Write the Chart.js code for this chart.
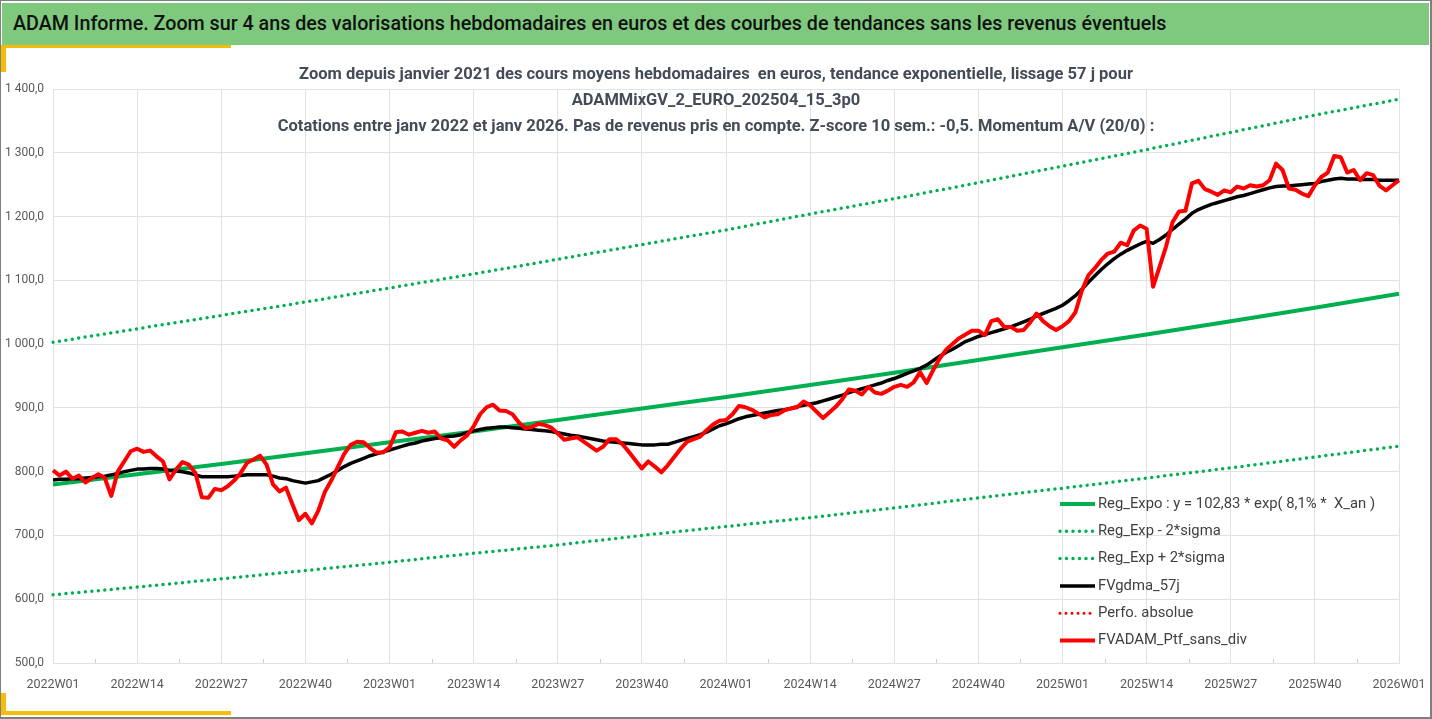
<!DOCTYPE html>
<html lang="fr">
<head>
<meta charset="utf-8">
<title>ADAM Informe</title>
<script src="https://cdn.jsdelivr.net/npm/chart.js@4.4.1/dist/chart.umd.min.js"></script>
<style>
  html, body { margin: 0; padding: 0; background: #fff; }
  #page { position: relative; width: 1432px; height: 719px; overflow: hidden; font-family: Roboto, "Noto Sans", sans-serif; }
  #cadre { position: absolute; left: 0; top: 0; width: 1429px; height: 716px; border: 1px solid #7f7f7f; border-width: 1px 2px 2px 1px; box-sizing: content-box; }
  #bandeau { position: absolute; left: 2px; top: 3px; width: 1427px; height: 42px; background: #7fc97f; color: #111;
             font-size: 19.7px; font-weight: 500; line-height: 42px; padding-left: 11px; box-sizing: border-box; white-space: nowrap; }
  .jaune { position: absolute; background: #f5bd0a; }
  #graphe { position: absolute; left: 0; top: 0; }
</style>
</head>
<body>
<div id="page">
  <canvas id="graphe" width="1432" height="719"></canvas>
  <div id="cadre"></div>
  <div id="bandeau">ADAM Informe. Zoom sur 4 ans des valorisations hebdomadaires en euros et des courbes de tendances sans les revenus éventuels</div>
  <div class="jaune" style="left:1px; top:45px; width:230px; height:3px;"></div>
  <div class="jaune" style="left:1px; top:45px; width:5px; height:27px;"></div>
  <div class="jaune" style="left:1px; top:693px; width:5px; height:22px;"></div>
  <div class="jaune" style="left:1px; top:711px; width:230px; height:4px;"></div>
</div>
<script>
// Libellés du titre
const titreLignes = [
  "Zoom depuis janvier 2021 des cours moyens hebdomadaires  en euros, tendance exponentielle, lissage 57 j pour",
  "ADAMMixGV_2_EURO_202504_15_3p0",
  "Cotations entre janv 2022 et janv 2026. Pas de revenus pris en compte. Z-score 10 sem.: -0,5. Momentum A/V (20/0) :"
];

// Semaines 2022W01 .. 2026W01
const annees = [2022, 2023, 2024, 2025];
const semaines = [];
annees.forEach(a => {
  for (let s = 1; s <= 52; s++) semaines.push(a + "W" + String(s).padStart(2, "0"));
});
semaines.push("2026W01");

// Tendances lues toutes les 13 semaines (2022W01, 2022W14, ... 2026W01)
const regExpo = [780, 796, 812, 829, 846, 863, 881, 899, 917, 936, 955, 975, 995, 1015, 1036, 1057, 1079];
const regMoins2Sigma = [607, 619, 632, 645, 658, 672, 685, 700, 714, 728, 743, 759, 774, 790, 806, 823, 840];
const regPlus2Sigma = [1003, 1024, 1045, 1066, 1088, 1110, 1133, 1156, 1179, 1204, 1228, 1253, 1279, 1305, 1332, 1359, 1384];

// Moyenne mobile 57 j (hebdo)
const fvGdma57j = [
  787, 788, 788, 789, 789, 790, 791, 792, 793, 795, 797, 800, 802, 804, 804, 805, 805, 804, 802, 801,
  800, 798, 795, 792, 792, 792, 792, 792, 793, 794, 795, 795, 795, 795, 793, 790,
  789, 786, 784, 782, 784, 786, 791, 796, 802, 808, 813, 817, 821, 825, 828, 831, 834, 837, 840, 843,
  845, 848, 850, 852, 853, 855, 856, 858, 861, 864, 866, 868, 869, 870, 870,
  869, 868, 867, 866, 865, 864, 863, 861, 859, 857, 856, 854, 852, 850, 848, 847, 846, 845, 844, 843,
  842, 842, 842, 843, 843, 846, 849, 852, 855, 858, 862, 867, 872, 875, 879,
  883, 886, 888, 890, 892, 894, 896, 897, 899, 902, 904, 906, 908, 911, 914, 917, 920, 924, 927, 930,
  933, 936, 939, 943, 946, 950, 954, 958, 962, 967, 974, 981, 987, 992, 998,
  1004, 1008, 1012, 1015, 1018, 1021, 1024, 1027, 1031, 1035, 1039, 1044, 1048, 1052, 1056, 1061, 1068, 1076, 1086, 1097,
  1107, 1117, 1126, 1134, 1141, 1147, 1152, 1157, 1161, 1158, 1164, 1171, 1180, 1188, 1196,
  1205, 1211, 1215, 1219, 1222, 1225, 1228, 1231, 1233, 1236, 1239, 1242, 1245, 1247, 1248, 1248, 1249, 1250, 1251, 1252,
  1255, 1257, 1259, 1260, 1259, 1259, 1258, 1258, 1258, 1257, 1257, 1257, 1257
];

// Valorisation hebdo sans dividendes
const fvAdamPtf = [
  802, 794, 800, 789, 794, 783, 790, 796, 790, 762, 800, 816, 832, 836, 831, 833, 824, 816, 788, 803,
  815, 811, 798, 760, 759, 773, 771, 777, 786, 798, 814, 819, 825, 811, 780, 769,
  775, 749, 724, 734, 719, 739, 768, 786, 807, 828, 842, 847, 846, 837, 830, 830, 838, 862, 863, 858,
  861, 864, 861, 863, 852, 849, 839, 849, 857, 871, 890, 901, 905, 896, 895,
  890, 877, 868, 870, 875, 873, 869, 860, 850, 852, 854, 847, 840, 833, 839, 851, 851, 843, 831, 818,
  805, 816, 808, 799, 810, 823, 836, 847, 851, 855, 865, 874, 880, 881, 890,
  903, 901, 897, 891, 885, 889, 890, 896, 899, 901, 910, 904, 894, 884, 893, 902, 914, 929, 927, 921,
  933, 924, 922, 927, 933, 936, 933, 940, 956, 939, 959, 977, 991, 1000, 1009,
  1015, 1021, 1021, 1014, 1036, 1039, 1027, 1027, 1021, 1022, 1034, 1048, 1036, 1028, 1022, 1028, 1036, 1050, 1084, 1108,
  1119, 1132, 1142, 1145, 1159, 1155, 1178, 1186, 1181, 1090, 1121, 1153, 1191, 1208, 1209,
  1252, 1256, 1243, 1239, 1234, 1241, 1238, 1247, 1244, 1249, 1247, 1249, 1257, 1283, 1273, 1244, 1242, 1236, 1232, 1249,
  1262, 1269, 1295, 1293, 1269, 1273, 1257, 1268, 1265, 1248, 1241, 1249, 1257
];

// Perfo. absolue : série vide dans le graphique
const perfoAbsolue = [];

const PAS_LIBELLE = 13;
const surTrimestre = serie => semaines.map((s, i) => (i % PAS_LIBELLE === 0 ? serie[i / PAS_LIBELLE] : null));

const VERT = "#00b050";
const GRILLE = "#e2e2e2";
const pointille = [0, 6.5];

const formatFr = v => {
  const s = v.toFixed(1).replace(".", ",");
  return v >= 1000 ? s.slice(0, s.length - 5) + " " + s.slice(s.length - 5) : s;
};

// Titre posé sur la zone de tracé
const titreSurTrace = {
  id: "titreSurTrace",
  afterDraw(chart) {
    const ctx = chart.ctx;
    ctx.save();
    ctx.fillStyle = "#424b57";
    ctx.font = "bold 16.5px Roboto";
    ctx.textAlign = "center";
    ctx.textBaseline = "middle";
    titreLignes.forEach((t, i) => ctx.fillText(t, chart.width / 2, 75 + i * 26));
    ctx.restore();
  }
};

// Petites graduations intermédiaires sur l'axe des semaines
const graduationsMineures = {
  id: "graduationsMineures",
  afterDraw(chart) {
    const ctx = chart.ctx;
    const x = chart.scales.x;
    const bas = chart.chartArea.bottom;
    ctx.save();
    ctx.strokeStyle = "#d0d0d0";
    ctx.lineWidth = 1;
    for (let i = PAS_LIBELLE / 2; i < semaines.length; i += PAS_LIBELLE) {
      const px = Math.round(x.getPixelForValue(i)) + 0.5;
      ctx.beginPath();
      ctx.moveTo(px, bas - 4);
      ctx.lineTo(px, bas);
      ctx.stroke();
    }
    ctx.restore();
  }
};

// Légende dans la zone de tracé, en bas à droite
const legendeInterne = {
  id: "legendeInterne",
  afterDraw(chart) {
    const ctx = chart.ctx;
    const ca = chart.chartArea;
    const x0 = ca.right - 339;
    const y0 = ca.bottom - 159;
    ctx.save();
    chart.data.datasets.forEach((ds, i) => {
      const y = y0 + i * 27.3;
      ctx.strokeStyle = ds.borderColor;
      ctx.lineWidth = ds.borderWidth;
      ctx.setLineDash(ds.borderDash || []);
      ctx.lineCap = ds.borderDash ? "round" : "butt";
      ctx.beginPath();
      ctx.moveTo(x0, y);
      ctx.lineTo(x0 + 35, y);
      ctx.stroke();
      ctx.setLineDash([]);
      ctx.fillStyle = "#404040";
      ctx.font = "14.8px Roboto";
      ctx.textBaseline = "middle";
      ctx.fillText(ds.label, x0 + 38, y);
    });
    ctx.restore();
  }
};

new Chart(document.getElementById("graphe"), {
  type: "line",
  data: {
    labels: semaines,
    datasets: [
      {
        label: "Reg_Expo : y = 102,83 * exp( 8,1% *  X_an )",
        data: surTrimestre(regExpo),
        borderColor: VERT,
        borderWidth: 4,
        spanGaps: true,
        order: 4
      },
      {
        label: "Reg_Exp - 2*sigma",
        data: surTrimestre(regMoins2Sigma),
        borderColor: VERT,
        borderWidth: 3.5,
        borderDash: pointille,
        borderCapStyle: "round",
        spanGaps: true,
        order: 5
      },
      {
        label: "Reg_Exp + 2*sigma",
        data: surTrimestre(regPlus2Sigma),
        borderColor: VERT,
        borderWidth: 3.5,
        borderDash: pointille,
        borderCapStyle: "round",
        spanGaps: true,
        order: 3
      },
      {
        label: "FVgdma_57j",
        data: fvGdma57j,
        borderColor: "#000000",
        borderWidth: 3.5,
        order: 2
      },
      {
        label: "Perfo. absolue",
        data: perfoAbsolue,
        borderColor: "#ff0000",
        borderWidth: 3,
        borderDash: [0, 6],
        borderCapStyle: "round",
        order: 1
      },
      {
        label: "FVADAM_Ptf_sans_div",
        data: fvAdamPtf,
        borderColor: "#ff0000",
        borderWidth: 4,
        order: 0
      }
    ]
  },
  options: {
    responsive: false,
    animation: false,
    devicePixelRatio: 1,
    layout: { padding: { top: 89, right: 33, bottom: 0, left: 0 } },
    elements: {
      point: { radius: 0, hoverRadius: 0 },
      line: { tension: 0, borderJoinStyle: "round" }
    },
    scales: {
      x: {
        grid: {
          color: c => (c.index % PAS_LIBELLE === 0 ? GRILLE : "rgba(0,0,0,0)"),
          drawTicks: false,
          lineWidth: 1
        },
        border: { color: GRILLE },
        ticks: {
          autoSkip: false,
          maxRotation: 0,
          minRotation: 0,
          padding: 14,
          color: "#595959",
          font: { family: "Roboto", size: 12.5 },
          callback: (v, i) => (i % PAS_LIBELLE === 0 ? semaines[i] : "")
        },
        afterFit: s => { s.height = 56; s.paddingLeft = 0; s.paddingRight = 0; }
      },
      y: {
        min: 500,
        max: 1400,
        grid: { color: GRILLE, drawTicks: false },
        border: { color: GRILLE },
        ticks: {
          stepSize: 100,
          padding: 9,
          color: "#595959",
          font: { family: "Roboto", size: 12 },
          callback: v => formatFr(v)
        },
        afterFit: s => { s.width = 53; }
      }
    },
    plugins: {
      legend: { display: false },
      title: { display: false },
      tooltip: { enabled: false }
    }
  },
  plugins: [titreSurTrace, graduationsMineures, legendeInterne]
});
</script>
</body>
</html>
